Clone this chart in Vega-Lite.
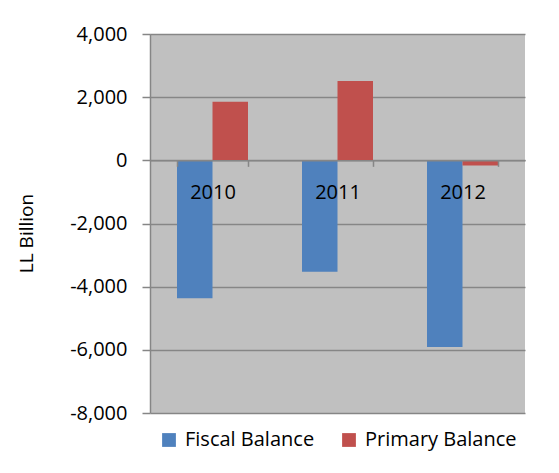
{
  "$schema": "https://vega.github.io/schema/vega-lite/v6.json",
  "description": "Fiscal and primary balance, LL billion, 2010-2012",
  "autosize": {"type": "none"},
  "padding": {"left": 150, "top": 34, "right": 34, "bottom": 60},
  "width": 375,
  "height": 379,
  "background": "white",
  "data": {
    "values": [
      {"year": "2010", "series": "Fiscal Balance", "value": -4367},
      {"year": "2010", "series": "Primary Balance", "value": 1854},
      {"year": "2011", "series": "Fiscal Balance", "value": -3525},
      {"year": "2011", "series": "Primary Balance", "value": 2509},
      {"year": "2012", "series": "Fiscal Balance", "value": -5908},
      {"year": "2012", "series": "Primary Balance", "value": -160}
    ]
  },
  "mark": {"type": "bar"},
  "encoding": {
    "x": {
      "field": "year",
      "type": "ordinal",
      "scale": {"paddingInner": 0.432, "paddingOuter": 0.216},
      "axis": {
        "title": null,
        "orient": "bottom",
        "offset": -252.67,
        "zindex": 1,
        "labelAngle": 0,
        "labelFontSize": 20,
        "labelPadding": 16,
        "tickBand": "extent",
        "tickSize": 6,
        "grid": false
      }
    },
    "xOffset": {"field": "series", "scale": {"paddingInner": 0}},
    "y": {
      "field": "value",
      "type": "quantitative",
      "scale": {"domain": [-8000, 4000], "nice": false, "zero": false},
      "axis": {
        "title": "LL Billion",
        "values": [-8000, -6000, -4000, -2000, 0, 2000, 4000],
        "format": ",d",
        "labelExpr": "replace(datum.label, '\u2212', '-')",
        "labelFontSize": 20,
        "labelPadding": 15,
        "tickSize": 8,
        "titleFontSize": 19,
        "titleFontWeight": "normal",
        "titleX": -124,
        "titleY": 199,
        "titleAlign": "center",
        "titleBaseline": "middle",
        "titleAngle": 270
      }
    },
    "color": {
      "field": "series",
      "type": "nominal",
      "scale": {"range": ["#4F81BD", "#C0504D"]},
      "legend": {
        "title": null,
        "orient": "none",
        "direction": "horizontal",
        "legendX": 9,
        "legendY": 396,
        "symbolType": "square",
        "symbolSize": 190,
        "symbolStrokeWidth": 0,
        "labelFontSize": 20,
        "labelOffset": 6,
        "columnPadding": 24
      }
    }
  },
  "config": {
    "font": "Open Sans",
    "view": {"fill": "#C0C0C0", "stroke": null},
    "axis": {
      "domainColor": "#868686",
      "domainWidth": 1.5,
      "tickColor": "#868686",
      "tickWidth": 1.5,
      "gridColor": "#868686",
      "gridWidth": 1.5,
      "labelColor": "black",
      "titleColor": "black"
    },
    "legend": {"labelColor": "black"}
  }
}
